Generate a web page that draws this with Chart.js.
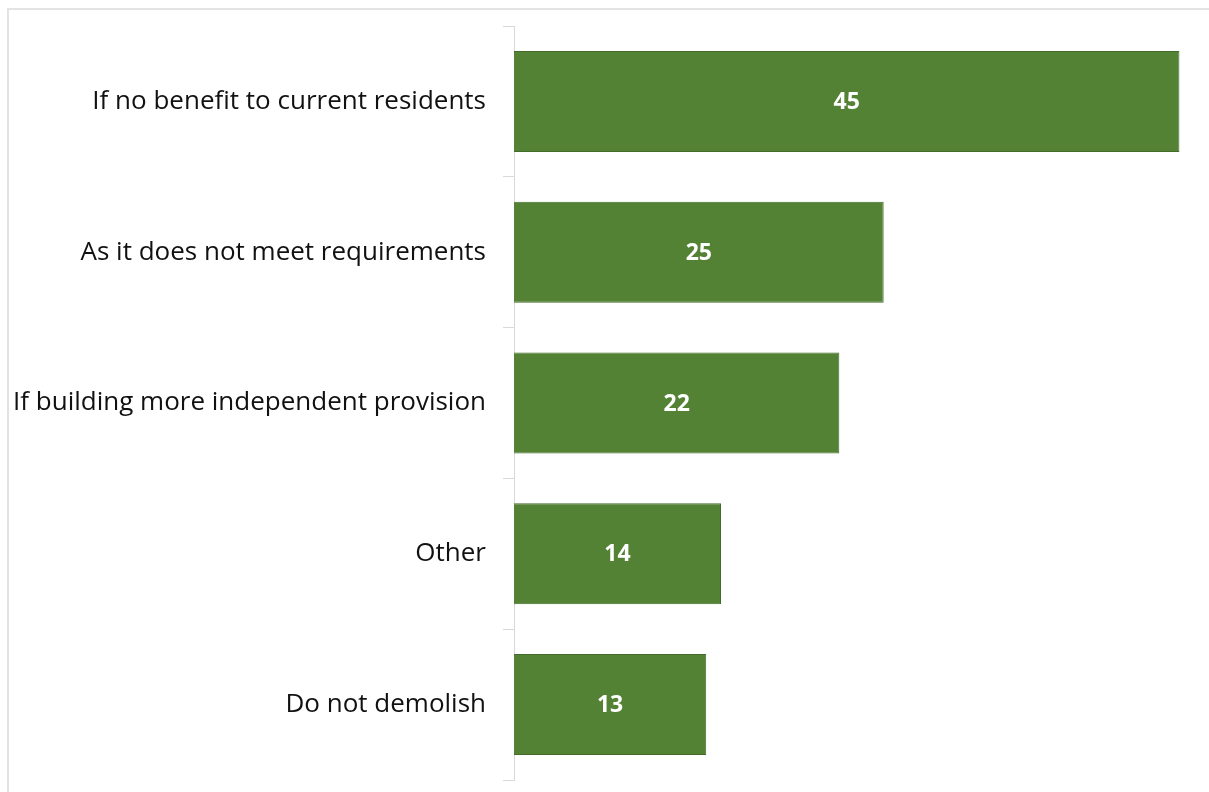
<!DOCTYPE html>
<html>
<head>
<meta charset="utf-8">
<script src="https://cdn.jsdelivr.net/npm/chart.js@4"></script>
<style>
  html, body { margin: 0; padding: 0; background: #fff; overflow: hidden; }
  #wrap { position: relative; width: 1209px; height: 792px; }
  #frame { position: absolute; left: 7px; top: 8px; width: 1220px; height: 800px; border: 2px solid #e3e3e3; box-sizing: border-box; }
  canvas { position: absolute; left: 0; top: 0; }
</style>
</head>
<body>
<div id="wrap">
  <div id="frame"></div>
  <canvas id="chartviewport" width="1209" height="792"></canvas>
</div>
<script>
const categories = [
  'If no benefit to current residents',
  'As it does not meet requirements',
  'If building more independent provision',
  'Other',
  'Do not demolish'
];
const values = [45, 25, 22, 14, 13];

// white bold numbers in the middle of each bar
const barLabels = {
  id: 'barLabels',
  afterDatasetsDraw(chart) {
    const ctx = chart.ctx;
    const meta = chart.getDatasetMeta(0);
    ctx.save();
    ctx.fillStyle = '#ffffff';
    ctx.font = 'bold 23px "Open Sans", sans-serif';
    ctx.textAlign = 'center';
    ctx.textBaseline = 'middle';
    meta.data.forEach((bar, i) => {
      const x = (bar.base + bar.x) / 2;
      ctx.fillText(values[i], x, bar.y + 1);
    });
    ctx.restore();
  }
};

new Chart(document.getElementById('chartviewport'), {
  type: 'bar',
  data: {
    labels: categories,
    datasets: [{
      data: values,
      backgroundColor: '#548235',
      borderColor: '#436b2a',
      borderWidth: 1,
      barPercentage: 0.67,
      categoryPercentage: 1
    }]
  },
  options: {
    indexAxis: 'y',
    responsive: false,
    animation: false,
    layout: { padding: { top: 26, bottom: 12, left: 0, right: 0 } },
    plugins: { legend: { display: false }, tooltip: { enabled: false } },
    scales: {
      x: { display: false, min: 0, max: 47 },
      y: {
        afterFit: s => { s.width = 514; s.paddingTop = 0; s.paddingBottom = 0; },
        border: { color: '#d9d9d9', width: 1 },
        grid: { offset: true, drawOnChartArea: false, color: '#d9d9d9', tickLength: 11 },
        ticks: {
          color: '#111111',
          padding: 17,
          font: { family: '"Open Sans", sans-serif', size: 26 }
        }
      }
    }
  },
  plugins: [barLabels]
});
</script>
</body>
</html>
